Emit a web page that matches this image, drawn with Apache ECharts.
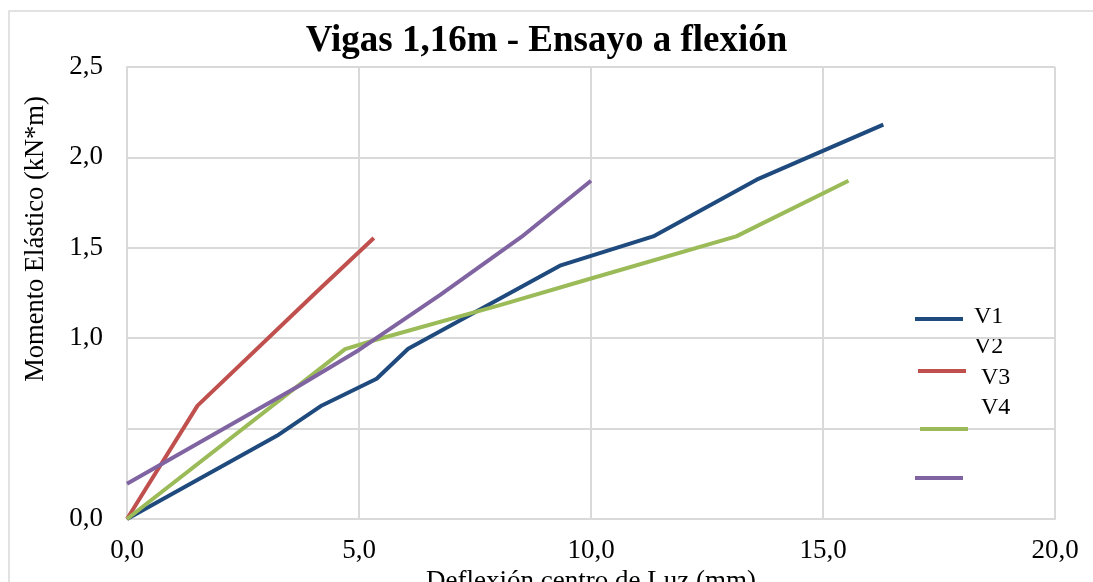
<!DOCTYPE html>
<html lang="es">
<head>
  <meta charset="UTF-8">
  <title>Vigas 1,16m - Ensayo a flexión</title>
  <script src="https://cdn.jsdelivr.net/npm/echarts@6/dist/echarts.min.js"></script>
  <style>
    html, body { margin: 0; padding: 0; background: #fff; }
    #chart { width: 1093px; height: 582px; }
  </style>
</head>
<body>
  <div id="chart"></div>
  <script>
    // datos (deflexion mm, momento kN*m)
    const seriesNames = ['V1', 'V2', 'V3', 'V4'];
    const v1X = [0, 3.23, 4.2, 5.38, 6.06, 9.33, 11.34, 13.57, 16.3];
    const v1Y = [0, 0.46, 0.628, 0.776, 0.942, 1.401, 1.563, 1.877, 2.181];
    const v2X = [0, 1.52, 4.1, 5.32];
    const v2Y = [0, 0.627, 1.26, 1.554];
    const v3X = [0, 4.7, 5.35, 8.0, 10.0, 13.13, 15.55];
    const v3Y = [0, 0.94, 0.99, 1.18, 1.33, 1.563, 1.871];
    const v4X = [0, 3.73, 5.0, 6.75, 8.5, 10.0];
    const v4Y = [0.195, 0.74, 0.935, 1.24, 1.56, 1.871];
    const colors = ['#1F4A7E', '#C0504D', '#9BBB59', '#8064A2'];

    const yTickLabels = ['0,0', '', '1,0', '1,5', '2,0', '2,5'];
    const xTickLabels = ['0,0', '5,0', '10,0', '15,0', '20,0'];

    // posicion de las marcas de leyenda (Excel las dejo desalineadas)
    const legendIconTops = [317, 369, 427, 476];
    const legendIconLefts = [915, 918, 920, 915];
    const legendTexts = [
      { text: 'V1', x: 974, y: 317 },
      { text: 'V2', x: 974, y: 347 },
      { text: 'V3', x: 981, y: 378 },
      { text: 'V4', x: 981, y: 408 }
    ];

    function pairs(xs, ys) {
      return xs.map((x, i) => [x, ys[i]]);
    }
    const allData = [pairs(v1X, v1Y), pairs(v2X, v2Y), pairs(v3X, v3Y), pairs(v4X, v4Y)];

    const font = '"Liberation Serif", "Times New Roman", serif';
    const chart = echarts.init(document.getElementById('chart'));

    const option = {
      backgroundColor: '#ffffff',
      animation: false,
      title: {
        text: 'Vigas 1,16m - Ensayo a flexión',
        left: 'center',
        top: 18,
        textStyle: { fontFamily: font, fontSize: 37, fontWeight: 'bold', color: '#000' }
      },
      legend: seriesNames.map((name, i) => ({
        data: [name],
        left: legendIconLefts[i],
        top: legendIconTops[i],
        padding: 0,
        icon: 'rect',
        itemWidth: 48,
        itemHeight: 4,
        selectedMode: false,
        formatter: () => '',
        textStyle: { fontSize: 4 }
      })),
      grid: { left: 127, right: 38, top: 67, bottom: 63, outerBoundsMode: 'none' },
      xAxis: {
        type: 'value',
        min: 0,
        max: 20,
        interval: 5,
        name: 'Deflexión centro de Luz (mm)',
        nameLocation: 'middle',
        nameGap: 42,
        nameTextStyle: { fontFamily: font, fontSize: 27, color: '#000' },
        axisLine: { lineStyle: { color: '#D9D9D9', width: 2 } },
        axisTick: { show: false },
        axisLabel: {
          margin: 18,
          fontFamily: font, fontSize: 27, color: '#000',
          formatter: (v) => xTickLabels[Math.round(v / 5)]
        },
        splitLine: { show: true, lineStyle: { color: '#D9D9D9', width: 2 } }
      },
      yAxis: {
        type: 'value',
        min: 0,
        max: 2.5,
        interval: 0.5,
        axisLine: { show: true, lineStyle: { color: '#D9D9D9', width: 2 } },
        axisTick: { show: false },
        axisLabel: {
          margin: 24,
          fontFamily: font, fontSize: 27, color: '#000',
          formatter: (v) => yTickLabels[Math.round(v / 0.5)]
        },
        splitLine: { show: true, lineStyle: { color: '#D9D9D9', width: 2 } }
      },
      graphic: [
        {
          type: 'rect',
          shape: { x: 9, y: 11, width: 1200, height: 700 },
          style: { fill: 'none', stroke: '#D9D9D9', lineWidth: 1.5 },
          z: -10
        },
        {
          type: 'text',
          x: 36,
          y: 239,
          rotation: Math.PI / 2,
          style: {
            text: 'Momento Elástico (kN*m)',
            fontFamily: font, fontSize: 26.5, fill: '#000',
            align: 'center', verticalAlign: 'middle'
          }
        }
      ].concat(legendTexts.map((t) => ({
        type: 'text',
        x: t.x,
        y: t.y,
        style: {
          text: t.text,
          fontFamily: font, fontSize: 24, fill: '#000',
          align: 'left', verticalAlign: 'middle'
        }
      }))),
      series: seriesNames.map((name, i) => ({
        name: name,
        type: 'line',
        data: allData[i],
        showSymbol: false,
        symbol: 'none',
        color: colors[i],
        lineStyle: { width: 4, color: colors[i] }
      }))
    };

    chart.setOption(option);
    window.addEventListener('resize', () => chart.resize());
  </script>
</body>
</html>
